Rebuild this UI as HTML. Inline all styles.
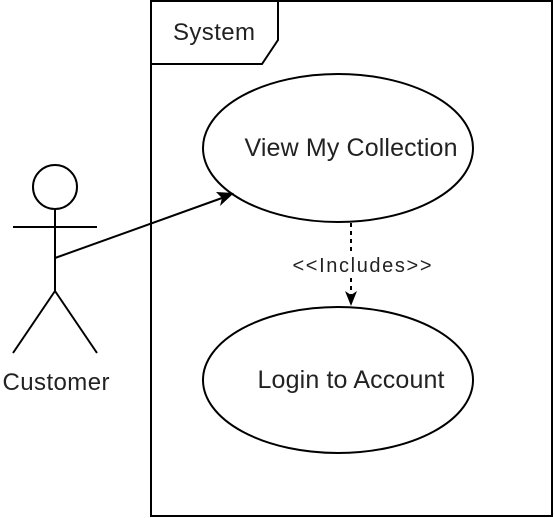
<!DOCTYPE html>
<html><head><style>
html,body{margin:0;padding:0;background:#fff;}
svg{display:block;}
text{font-family:"Liberation Sans",Arial,sans-serif;fill:#222;}
</style></head><body>
<svg width="554" height="518" viewBox="0 0 554 518" xmlns="http://www.w3.org/2000/svg">
<rect width="554" height="518" fill="#fff"/>
<rect x="151" y="1" width="401" height="515" fill="none" stroke="#000" stroke-width="2"/>
<polyline points="151,64 262,64 278,40 278,1" fill="none" stroke="#000" stroke-width="2"/>
<text x="214" y="40" font-size="24" text-anchor="middle" textLength="82">System</text>
<ellipse cx="338" cy="148" rx="135" ry="74" fill="#fff" stroke="#000" stroke-width="2"/>
<text x="351" y="156" font-size="25" text-anchor="middle" textLength="213">View My Collection</text>
<ellipse cx="338" cy="380" rx="135" ry="73" fill="#fff" stroke="#000" stroke-width="2"/>
<text x="351" y="388" font-size="25" text-anchor="middle" textLength="187">Login to Account</text>
<line x1="351" y1="223" x2="351" y2="253" stroke="#000" stroke-width="2" stroke-dasharray="4,4"/>
<line x1="351" y1="278" x2="351" y2="296" stroke="#000" stroke-width="2" stroke-dasharray="4,4"/>
<polygon points="345,291 351,306 357,291 351,295" fill="#000"/>
<text x="362" y="272" font-size="20" text-anchor="middle" textLength="139">&lt;&lt;Includes&gt;&gt;</text>
<circle cx="55" cy="187" r="22" fill="#fff" stroke="#000" stroke-width="2"/>
<line x1="13" y1="227" x2="97" y2="227" stroke="#000" stroke-width="2"/>
<line x1="55" y1="209" x2="55" y2="291" stroke="#000" stroke-width="2"/>
<line x1="55" y1="291" x2="13" y2="353" stroke="#000" stroke-width="2"/>
<line x1="55" y1="291" x2="97" y2="353" stroke="#000" stroke-width="2"/>
<text x="56" y="390" font-size="24" text-anchor="middle" textLength="107">Customer</text>
<line x1="55" y1="258" x2="222" y2="198" stroke="#000" stroke-width="2"/>
<polygon points="234,193 216,192 222,198 220,206" fill="#000"/>
</svg>
</body></html>
